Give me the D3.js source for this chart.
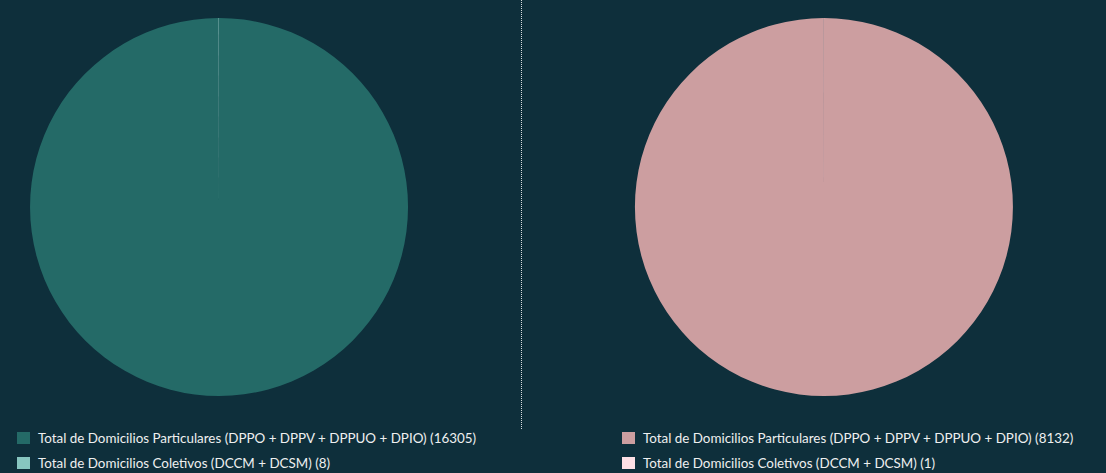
<!DOCTYPE html>
<html>
<head>
<meta charset="utf-8">
<script src="https://cdn.jsdelivr.net/npm/d3@7"></script>
<style>
    body { margin: 0; background: #0e2f3b; overflow: hidden; }
    .legend text { font-family: Lato, sans-serif; font-size: 13.4px; fill: #eef0f0; }
</style>
</head>
<body>
<div id="chart"></div>
<script>
const labels = [
    "Total de Domicilios Particulares (DPPO + DPPV + DPPUO + DPIO)",
    "Total de Domicilios Coletivos (DCCM + DCSM)"
];
const leftValues = [16305, 8];
const rightValues = [8132, 1];
const leftColors = ["#246a67", "#87c6c0"];
const rightColors = ["#cc9ea0", "#fde0e5"];

const width = 1106;
const height = 473;

const svg = d3.select("#chart")
    .append("svg")
    .attr("width", width)
    .attr("height", height);

const pie = d3.pie().sort(null).value(d => d);
const arc = d3.arc().innerRadius(0).outerRadius(189);

const drawPanel = (values, colors, cx, lx) => {
    const g = svg.append("g")
        .attr("transform", "translate(" + cx + ",207)");

    g.selectAll("path")
        .data(pie(values))
        .join("path")
        .attr("d", arc)
        .attr("fill", (d, i) => colors[i]);

    const legend = svg.append("g")
        .attr("class", "legend")
        .attr("transform", "translate(" + lx + ",432)");

    const items = legend.selectAll("g")
        .data(values)
        .join("g")
        .attr("transform", (d, i) => "translate(0," + i * 25 + ")");

    items.append("rect")
        .attr("width", 13)
        .attr("height", 12)
        .attr("fill", (d, i) => colors[i]);

    items.append("text")
        .attr("x", 21)
        .attr("y", 11)
        .text((d, i) => labels[i] + " (" + d + ")");
}

drawPanel(leftValues, leftColors, 219, 17);
drawPanel(rightValues, rightColors, 824, 622);

// separator between the two pies
svg.append("line")
    .attr("x1", 521.5).attr("x2", 521.5)
    .attr("y1", 0).attr("y2", 430)
    .attr("stroke", "#d8dde0")
    .attr("stroke-width", 1)
    .attr("stroke-dasharray", "1,1");
</script>
</body>
</html>
